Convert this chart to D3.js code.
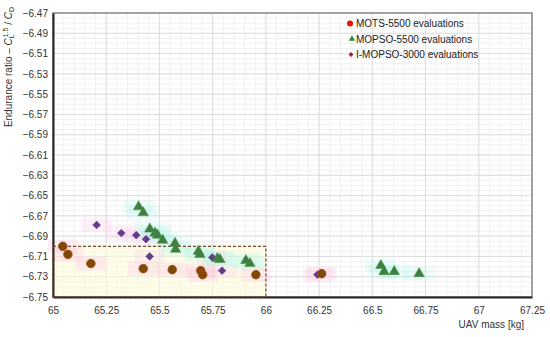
<!DOCTYPE html>
<html>
<head>
<meta charset="utf-8">
<script src="https://cdn.jsdelivr.net/npm/d3@7"></script>
<style>
  body { margin: 0; background: #fff; }
  text { font-family: "Liberation Sans", Arial, sans-serif; }
</style>
</head>
<body>
<div id="chart"></div>
<script>
"use strict";
// values
var xTicks = [65, 65.25, 65.5, 65.75, 66, 66.25, 66.5, 66.75, 67, 67.25];
var yTicks = [-6.47, -6.49, -6.51, -6.53, -6.55, -6.57, -6.59, -6.61, -6.63, -6.65, -6.67, -6.69, -6.71, -6.73, -6.75];

var motsMass = [65.046, 65.07, 65.178, 65.424, 65.56, 65.694, 65.703, 65.953, 66.262];
var motsRatio = [-6.7, -6.708, -6.717, -6.722, -6.723, -6.724, -6.728, -6.728, -6.727];

var mopsoMass = [65.402, 65.424, 65.455, 65.479, 65.491, 65.515, 65.573, 65.576, 65.683, 65.69,
  65.772, 65.784, 65.906, 65.925, 66.54, 66.555, 66.603, 66.72];
var mopsoRatio = [-6.661, -6.667, -6.683, -6.687, -6.689, -6.694, -6.697, -6.703, -6.705, -6.708,
  -6.712, -6.713, -6.714, -6.717, -6.719, -6.725, -6.725, -6.727];

var imopsoMass = [65.205, 65.321, 65.391, 65.437, 65.454, 65.748, 65.794, 66.242];
var imopsoRatio = [-6.679, -6.687, -6.689, -6.693, -6.71, -6.711, -6.724, -6.728];

// highlighted region
var boxMass = [65, 66];
var boxRatio = [-6.7, -6.75];

var legendNames = ["MOTS-5500 evaluations", "MOPSO-5500 evaluations", "I-MOPSO-3000 evaluations"];

var w = 550, h = 337;
var m = { left: 53, right: 18, top: 13, bottom: 40 };

var svg = d3.select("#chart").append("svg").attr("width", w).attr("height", h);

var x = d3.scaleLinear().domain([65, 67.25]).range([m.left, w - m.right]);
var y = d3.scaleLinear().domain([-6.75, -6.47]).range([h - m.bottom, m.top]);

// minor grid
var minorX = d3.range(65, 67.25001, 0.05);
var minorY = d3.range(-6.75, -6.46999, 0.005);
var grid = svg.append("g");
grid.selectAll(".mx").data(minorX).enter().append("line")
  .attr("x1", d => x(d)).attr("x2", d => x(d))
  .attr("y1", y(-6.47)).attr("y2", y(-6.75))
  .attr("stroke", "#f1f1f1").attr("stroke-width", 1);
grid.selectAll(".my").data(minorY).enter().append("line")
  .attr("y1", d => y(d)).attr("y2", d => y(d))
  .attr("x1", x(65)).attr("x2", x(67.25))
  .attr("stroke", "#f1f1f1").attr("stroke-width", 1);
// major grid
grid.selectAll(".gx").data(xTicks).enter().append("line")
  .attr("x1", d => x(d)).attr("x2", d => x(d))
  .attr("y1", y(-6.47)).attr("y2", y(-6.75))
  .attr("stroke", "#dedede").attr("stroke-width", 1);
grid.selectAll(".gy").data(yTicks).enter().append("line")
  .attr("y1", d => y(d)).attr("y2", d => y(d))
  .attr("x1", x(65)).attr("x2", x(67.25))
  .attr("stroke", "#dedede").attr("stroke-width", 1);

// highlighted box fill
svg.append("rect")
  .attr("x", x(boxMass[0])).attr("y", y(boxRatio[0]))
  .attr("width", x(boxMass[1]) - x(boxMass[0]))
  .attr("height", y(boxRatio[1]) - y(boxRatio[0]))
  .attr("fill", "#fbfbd8").attr("fill-opacity", 0.55);

// soft halos behind markers
var halo = svg.append("g");
function halos(xs, ys, color) {
  halo.selectAll(null).data(xs).enter().append("rect")
    .attr("x", (d, i) => x(d) - 15).attr("y", (d, i) => y(ys[i]) - 7)
    .attr("width", 30).attr("height", 14)
    .attr("fill", color).attr("fill-opacity", 0.22);
}
halos(motsMass, motsRatio, "#ffb3dd");
halos(imopsoMass, imopsoRatio, "#ffc6e6");
halos(mopsoMass, mopsoRatio, "#a8f5ea");

// frame
svg.append("rect")
  .attr("x", x(65)).attr("y", y(-6.47))
  .attr("width", x(67.25) - x(65)).attr("height", y(-6.75) - y(-6.47))
  .attr("fill", "none").attr("stroke", "#8a8a8a").attr("stroke-width", 1.5);

// axes
var xAxis = svg.append("g").attr("transform", "translate(0," + y(-6.75) + ")")
  .call(d3.axisBottom(x).tickValues(xTicks).tickSize(0).tickPadding(10).tickFormat(d3.format("")));
var yAxis = svg.append("g").attr("transform", "translate(" + x(65) + ",0)")
  .call(d3.axisLeft(y).tickValues(yTicks).tickSize(0).tickPadding(5).tickFormat(d3.format(".2f")));
[xAxis, yAxis].forEach(function(a) {
  a.select(".domain").attr("stroke", "#222").attr("stroke-width", 2);
  a.selectAll("text").attr("font-size", 10).attr("fill", "#333")
    .attr("font-family", "'Liberation Sans', Arial, sans-serif");
});

// dashed box outline
svg.append("rect")
  .attr("x", x(boxMass[0])).attr("y", y(boxRatio[0]))
  .attr("width", x(boxMass[1]) - x(boxMass[0]))
  .attr("height", y(boxRatio[1]) - y(boxRatio[0]))
  .attr("fill", "none").attr("stroke", "#7a4a2a").attr("stroke-width", 1.2)
  .attr("stroke-dasharray", "3,2");

// markers
var pts = svg.append("g");
var triangle = d3.symbol().type(d3.symbolTriangle).size(48);
var diamond = d3.symbol().type(d3.symbolSquare).size(30);

pts.selectAll(".imopso").data(imopsoMass).enter().append("path")
  .attr("d", diamond)
  .attr("transform", (d, i) => "translate(" + x(d) + "," + y(imopsoRatio[i]) + ") rotate(45)")
  .attr("fill", "#5f3c8e").attr("stroke", "#7a3a7a").attr("stroke-width", 0.6);

pts.selectAll(".mopso").data(mopsoMass).enter().append("path")
  .attr("d", triangle)
  .attr("transform", (d, i) => "translate(" + x(d) + "," + y(mopsoRatio[i]) + ")")
  .attr("fill", "#3f7f3f").attr("stroke", "#4e8e4e").attr("stroke-width", 0.5);

pts.selectAll(".mots").data(motsMass).enter().append("circle")
  .attr("cx", d => x(d)).attr("cy", (d, i) => y(motsRatio[i]))
  .attr("r", 4.3)
  .attr("fill", "#7d4a05").attr("stroke", "#b0421a").attr("stroke-width", 0.8);

// axis titles
svg.append("text")
  .attr("x", 524).attr("y", 328)
  .attr("text-anchor", "end").attr("font-size", 10).attr("fill", "#333")
  .text("UAV mass [kg]");

var yl = svg.append("text")
  .attr("transform", "translate(12,67) rotate(-90)")
  .attr("text-anchor", "middle").attr("font-size", 10).attr("fill", "#333");
yl.append("tspan").text("Endurance ratio \u2013 ");
yl.append("tspan").attr("font-style", "italic").text("C");
yl.append("tspan").attr("font-size", 7).attr("dy", 2).text("L");
yl.append("tspan").attr("font-size", 7).attr("dy", -6).attr("dx", -3).text("1.5");
yl.append("tspan").attr("dy", 4).text(" / ");
yl.append("tspan").attr("font-style", "italic").text("C");
yl.append("tspan").attr("font-size", 7).attr("dy", 2).text("D");

// legend
var lg = svg.append("g");
var lgY = [23.5, 39, 54.5];
lg.append("circle").attr("cx", 350).attr("cy", lgY[0]).attr("r", 3).attr("fill", "#e8120c");
lg.append("path").attr("d", d3.symbol().type(d3.symbolTriangle).size(18))
  .attr("transform", "translate(352," + lgY[1] + ")").attr("fill", "#2e8b3e");
lg.append("path").attr("d", d3.symbol().type(d3.symbolSquare).size(12))
  .attr("transform", "translate(351," + lgY[2] + ") rotate(45)").attr("fill", "#a0204a");
lg.selectAll("text").data(legendNames).enter().append("text")
  .attr("x", 356).attr("y", (d, i) => lgY[i] + 3.5)
  .attr("font-size", 10).attr("fill", "#222")
  .text(d => d);
</script>
</body>
</html>
